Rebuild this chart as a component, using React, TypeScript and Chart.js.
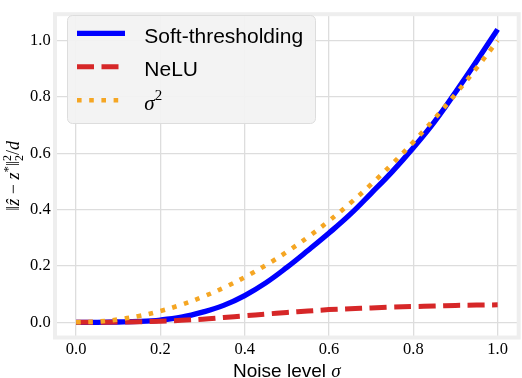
import React, { useEffect, useRef } from 'react';
import { Chart, registerables } from 'chart.js';

Chart.register(...registerables);

// ---- data ----
const sigma = [0, 0.05, 0.1, 0.15, 0.2, 0.25, 0.3, 0.35, 0.4, 0.45, 0.5, 0.55, 0.6, 0.65, 0.7, 0.75, 0.8, 0.85, 0.9, 0.95, 1.0];
const softThresholding = [0, 0, 0.001, 0.003, 0.008, 0.018, 0.036, 0.06, 0.095, 0.14, 0.195, 0.255, 0.317, 0.383, 0.458, 0.535, 0.62, 0.712, 0.817, 0.927, 1.04];
const nelu = [0, 0, 0.001, 0.002, 0.004, 0.007, 0.011, 0.017, 0.023, 0.029, 0.035, 0.04, 0.045, 0.048, 0.051, 0.054, 0.056, 0.058, 0.06, 0.061, 0.062];
const sigmaSquared = [0, 0.0025, 0.01, 0.0225, 0.04, 0.0625, 0.09, 0.1225, 0.16, 0.2025, 0.25, 0.3025, 0.36, 0.4225, 0.49, 0.5625, 0.64, 0.7225, 0.81, 0.9025, 1.0];
const xTicks = [0, 0.2, 0.4, 0.6, 0.8, 1.0];
const yTicks = [0, 0.2, 0.4, 0.6, 0.8, 1.0];
const legendLabels = ['Soft-thresholding', 'NeLU'];
const xTitle = 'Noise level ';

const BLUE = '#0000ff';
const RED = '#d62728';
const ORANGE = '#f5a623';
const SERIF = '"Liberation Serif", "DejaVu Serif", serif';
const SANS = '"Liberation Sans", Arial, sans-serif';

type Run = { t?: string; font?: string; dy?: number; stack?: { t: string; font: string; dy: number }[] };

function runWidth(ctx: CanvasRenderingContext2D, r: Run) {
  if (r.stack) {
    let m = 0;
    for (const s of r.stack) { ctx.font = s.font; m = Math.max(m, ctx.measureText(s.t).width); }
    return m;
  }
  ctx.font = r.font!;
  return ctx.measureText(r.t!).width;
}

function drawRuns(ctx: CanvasRenderingContext2D, runs: Run[], x: number, y: number, align: 'left' | 'center') {
  const widths = runs.map(r => runWidth(ctx, r));
  const total = widths.reduce((a, b) => a + b, 0);
  let cx = align === 'center' ? x - total / 2 : x;
  ctx.textAlign = 'left';
  ctx.textBaseline = 'alphabetic';
  runs.forEach((r, i) => {
    if (r.stack) {
      for (const s of r.stack) { ctx.font = s.font; ctx.fillText(s.t, cx, y + s.dy); }
    } else {
      ctx.font = r.font!;
      ctx.fillText(r.t!, cx, y + (r.dy || 0));
    }
    cx += widths[i];
  });
}

const decorPlugin = {
  id: 'decor',
  beforeDraw(chart: any) {
    const { ctx, width, height } = chart;
    ctx.save();
    ctx.fillStyle = '#ffffff';
    ctx.fillRect(0, 0, width, height);
    ctx.restore();
  },
  beforeDatasetsDraw(chart: any) {
    const { ctx, chartArea: a } = chart;
    ctx.save();
    ctx.strokeStyle = '#eeeeee';
    ctx.lineWidth = 4;
    ctx.strokeRect(a.left, a.top, a.right - a.left, a.bottom - a.top);
    ctx.restore();
  },
  afterDatasetsDraw(chart: any) {
    const { ctx, chartArea: a } = chart;
    ctx.save();
    // legend box
    const bx = 67, by = 15, bw = 248, bh = 108, rad = 5;
    ctx.beginPath();
    ctx.roundRect(bx + 0.5, by + 0.5, bw, bh, rad);
    ctx.fillStyle = 'rgba(242,242,242,0.92)';
    ctx.fill();
    ctx.strokeStyle = '#dddddd';
    ctx.lineWidth = 1;
    ctx.stroke();

    const baselines = [42.7, 76, 109.5];
    const lx0 = 77, lx1 = 125, tx = 144.3;
    const styles = [
      { color: BLUE, width: 5.3, dash: [] as number[] },
      { color: RED, width: 5, dash: [17, 7.5] },
      { color: ORANGE, width: 4.6, dash: [4.6, 7.6] },
    ];
    styles.forEach((s, i) => {
      const ly = baselines[i] - 9.3;
      ctx.beginPath();
      ctx.setLineDash(s.dash);
      ctx.lineCap = 'butt';
      ctx.strokeStyle = s.color;
      ctx.lineWidth = s.width;
      ctx.moveTo(lx0, ly);
      ctx.lineTo(lx1, ly);
      ctx.stroke();
    });
    ctx.setLineDash([]);
    ctx.fillStyle = '#000000';
    ctx.textAlign = 'left';
    ctx.textBaseline = 'alphabetic';
    ctx.font = `21px ${SANS}`;
    ctx.fillText(legendLabels[0], tx, baselines[0]);
    ctx.fillText(legendLabels[1], tx, baselines[1]);
    drawRuns(ctx, [
      { t: 'σ', font: `italic 21px ${SERIF}` },
      { t: '2', font: `15px ${SERIF}`, dy: -10 },
    ], tx, baselines[2], 'left');

    // x title
    const cxm = (a.left + a.right) / 2;
    drawRuns(ctx, [
      { t: xTitle, font: `19px ${SANS}` },
      { t: 'σ', font: `italic 19px ${SERIF}` },
    ], cxm, 376.5, 'center');

    // y title
    const cym = (a.top + a.bottom) / 2;
    ctx.translate(18.5, cym);
    ctx.rotate(-Math.PI / 2);
    drawRuns(ctx, [
      { t: '‖', font: `18px ${SERIF}` },
      { t: 'ẑ', font: `italic 18px ${SERIF}` },
      { t: ' − ', font: `18px ${SERIF}` },
      { t: 'z', font: `italic 18px ${SERIF}` },
      { t: '*', font: `13px ${SERIF}`, dy: -7 },
      { t: '‖', font: `18px ${SERIF}` },
      { stack: [{ t: '2', font: `12px ${SERIF}`, dy: -8 }, { t: '2', font: `12px ${SERIF}`, dy: 4 }] },
      { t: '/', font: `18px ${SERIF}` },
      { t: 'd', font: `italic 18px ${SERIF}` },
    ], 0, 0, 'center');
    ctx.restore();
  },
};

export default function App() {
  const ref = useRef<HTMLCanvasElement | null>(null);
  useEffect(() => {
    if (!ref.current) return;
    const mk = (arr: number[]) => sigma.map((s, i) => ({ x: s, y: arr[i] }));
    const chart = new Chart(ref.current, {
      type: 'line',
      data: {
        datasets: [
          {
            label: 'Soft-thresholding', data: mk(softThresholding), borderColor: BLUE, borderWidth: 5.3,
            pointRadius: 0, tension: 0.4, order: 3, borderCapStyle: 'butt',
          },
          {
            label: 'NeLU', data: mk(nelu), borderColor: RED, borderWidth: 5, borderDash: [17, 7.5],
            pointRadius: 0, tension: 0.4, order: 2, borderCapStyle: 'butt',
          },
          {
            label: 'σ²', data: mk(sigmaSquared), borderColor: ORANGE, borderWidth: 4.6, borderDash: [4.6, 7.6],
            pointRadius: 0, tension: 0.4, order: 1, borderCapStyle: 'butt',
          },
        ],
      },
      options: {
        animation: false,
        responsive: false,
        devicePixelRatio: 1,
        layout: { padding: { top: 3.5, right: 3.3, left: 0, bottom: 0 } },
        plugins: { legend: { display: false }, tooltip: { enabled: false } },
        scales: {
          x: {
            type: 'linear', min: -0.05, max: 1.05,
            afterFit: (s: any) => { s.height = 40.5; },
            afterBuildTicks: (s: any) => { s.ticks = xTicks.map(v => ({ value: v })); },
            grid: { color: '#dddddd', lineWidth: 1.3, drawTicks: false },
            border: { display: false },
            ticks: {
              padding: 2, color: '#000', font: { family: SERIF, size: 16.5 },
              callback: (v: any) => Number(v).toFixed(1),
            },
          },
          y: {
            type: 'linear', min: -0.054, max: 1.094,
            afterFit: (s: any) => { s.width = 55; },
            afterBuildTicks: (s: any) => { s.ticks = yTicks.map(v => ({ value: v })); },
            grid: { color: '#dddddd', lineWidth: 1.3, drawTicks: false },
            border: { display: false },
            ticks: {
              padding: 4.3, color: '#000', font: { family: SERIF, size: 16.5 },
              callback: (v: any) => Number(v).toFixed(1),
            },
          },
        },
      },
      plugins: [decorPlugin],
    } as any);
    return () => chart.destroy();
  }, []);
  return (
    <div style={{ position: 'fixed', left: 0, top: 0, width: 522, height: 378 }}>
      <canvas ref={ref} width={522} height={378} style={{ width: 522, height: 378, display: 'block' }} />
    </div>
  );
}
